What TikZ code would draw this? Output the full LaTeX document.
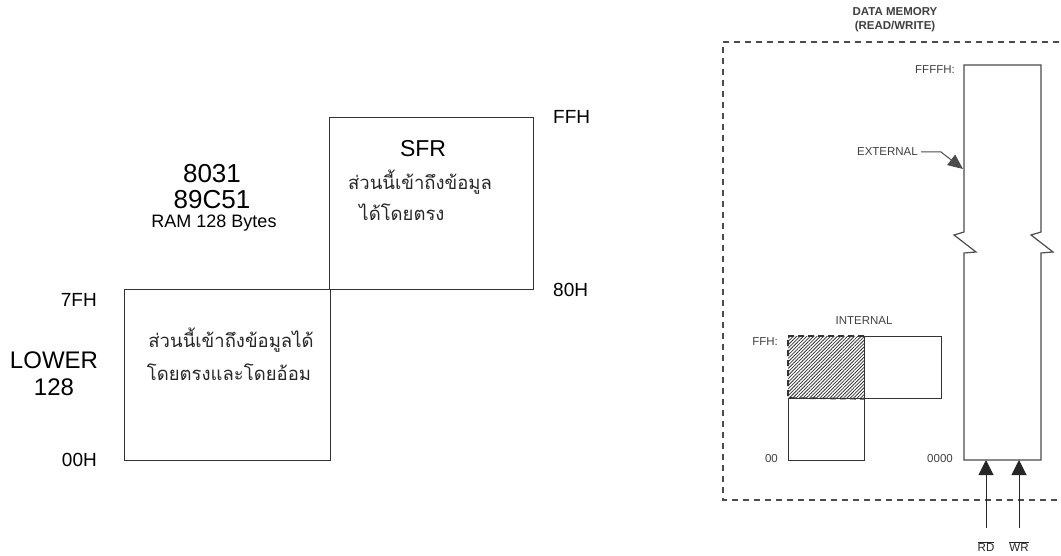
\documentclass[tikz,border=0pt]{standalone}
\usepackage{fontspec}
\setmainfont{Liberation Sans}
\newfontfamily\thaifont[Script=Thai]{Loma}
\usetikzlibrary{patterns.meta,arrows.meta}
\begin{document}
\begin{tikzpicture}[x=1pt,y=-1pt,
  thinbox/.style={draw=black!80, line width=0.8pt},
  big/.style={font=\fontsize{26}{28}\selectfont, inner sep=0pt},
  mid/.style={font=\fontsize{19}{21}\selectfont, inner sep=0pt},
  thai/.style={font=\thaifont\fontsize{18.5}{20}\selectfont, inner sep=0pt, text=black!85},
  small/.style={font=\fontsize{11.5}{13}\selectfont, inner sep=0pt, text=black!75},
  title/.style={font=\bfseries\fontsize{11.5}{14}\selectfont, inner sep=0pt, text=black!75, align=center},
  gline/.style={draw=black!70, line width=1.2pt},
  ibox/.style={draw=black!80, line width=0.8pt},
  tip/.style={-{Triangle[width=15pt,length=15pt]}, draw=black!85, line width=1pt}
]
\useasboundingbox (0,0) rectangle (1061,556);
\clip (0,0) rectangle (1061,556);

% ---------- left part ----------
\node[thinbox, anchor=north west, minimum width=206, minimum height=171, inner sep=0pt] (lower) at (124,289) {};
\node[thinbox, anchor=north west, minimum width=204, minimum height=172, inner sep=0pt] (sfr) at (329,117) {};

\node[big] (t8031) at (212,174) {8031};
\node[big] (t89c51) at (212,200) {89C51};
\node[mid, font=\fontsize{18}{20}\selectfont] (tram) at (214,223) {RAM 128 Bytes};

\node[mid, font=\fontsize{23}{25}\selectfont] (tsfr) at (423,149) {SFR};
\node[thai] (sfr1) at (420,182) {ส่วนนี้เข้าถึงข้อมูล};
\node[thai] (sfr2) at (402,212) {ได้โดยตรง};

\node[thai] (low1) at (231,340) {ส่วนนี้เข้าถึงข้อมูลได้};
\node[thai] (low2) at (229,372) {โดยตรงและโดยอ้อม};

\node[mid, anchor=west] (tffh) at (553,117) {FFH};
\node[mid, anchor=west] (t80h) at (553,290) {80H};
\node[mid, anchor=east] (t7fh) at (97,300) {7FH};
\node[mid, anchor=east] (t00h) at (97,460) {00H};
\node[big, font=\fontsize{24}{26}\selectfont] (tlower) at (54,360) {LOWER};
\node[big, font=\fontsize{24}{26}\selectfont] (t128) at (54,387) {128};

% ---------- right part ----------
\node[title] (ttitle) at (895,20) {DATA MEMORY\\(READ/WRITE)};
\draw[draw=black!70, line width=1.1pt, dash pattern=on 6pt off 5pt] (1070,42) -- (723,42) -- (723,500) -- (1070,500);

% external memory with break
\draw[gline] (964,65) -- (1041,65) -- (1041,232) -- (1031,235) -- (1053,252) -- (1041,253)
  -- (1041,460) -- (964,460) -- (964,253) -- (976,252) -- (954,235) -- (964,232) -- cycle;
\coordinate (extL) at (963,169);
\node[small, anchor=east] (tffffh) at (955,70) {FFFFH:};
\node[small, anchor=east] (text) at (918,152) {EXTERNAL};
\draw[draw=black!70, line width=1pt, -{Triangle[width=13pt,length=15pt]}] (text.east) ++(3,0) coordinate (ex0) -- ++(20,0) -- (extL);
\node[small, anchor=east] (t0000) at (953,459) {0000};

% internal memory
\node[small] (tint) at (864,321) {INTERNAL};
\fill[pattern={Lines[angle=45,distance=2.4pt,line width=0.8pt]}, pattern color=black!80] (788,336) rectangle (864,398);
\node[ibox, anchor=north west, minimum width=77, minimum height=62, inner sep=0pt] (iup) at (864,336) {};
\node[ibox, anchor=north west, minimum width=76, minimum height=62, inner sep=0pt] (ilow) at (788,398) {};
\draw[draw=black!80, line width=1.6pt, dash pattern=on 6pt off 4pt] (iup.north west) -- (788,336) -- (ilow.north west) -- (iup.south west);
\node[small, anchor=east] (tffh2) at (778,342) {FFH:};
\node[small, anchor=east] (t00) at (778,459) {00};

% RD / WR arrows
\node[small, text=black!85] (trd) at (986,547) {$\overline{\hbox{RD}}$};
\node[small, text=black!85] (twr) at (1019,547) {$\overline{\hbox{WR}}$};
\coordinate (rdtip) at (986,460);
\coordinate (wrtip) at (1019,460);
\draw[tip] (986,528) -- (rdtip);
\draw[tip] (1019,528) -- (wrtip);
\end{tikzpicture}
\end{document}
